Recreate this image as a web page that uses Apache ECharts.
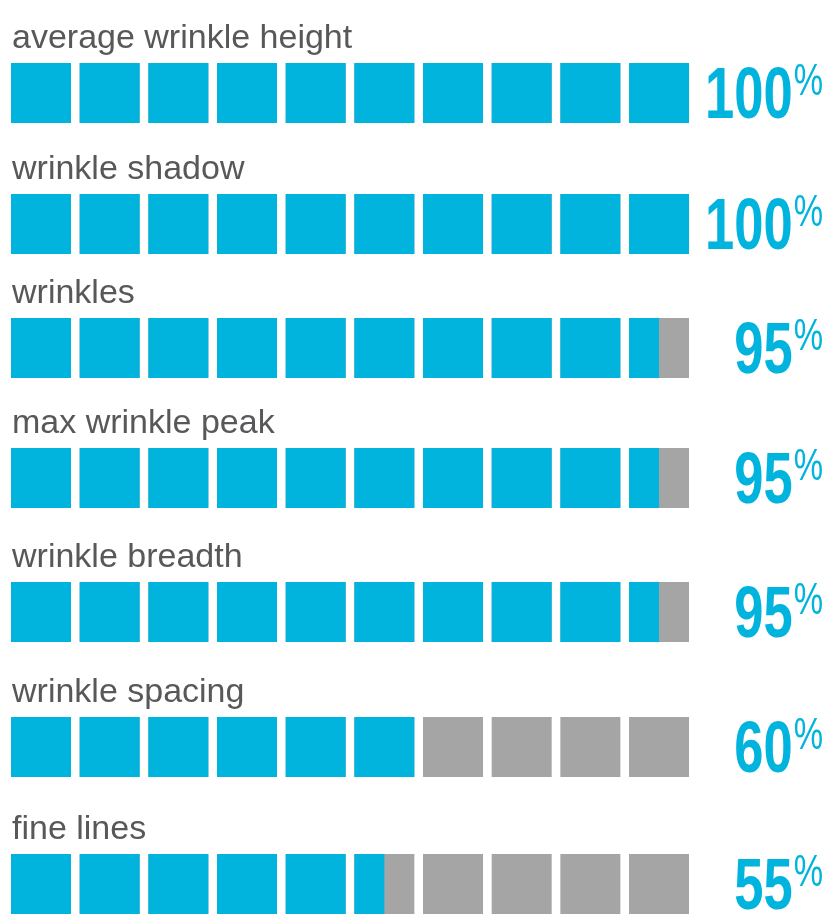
<!DOCTYPE html>
<html>
<head>
<meta charset="utf-8">
<script src="https://cdn.jsdelivr.net/npm/echarts/dist/echarts.min.js"></script>
<style>
html,body{margin:0;padding:0;background:#ffffff;}
#chart{width:830px;height:916px;}
</style>
</head>
<body>
<div id="chart"></div>
<script>
// ---- data ----
const categories = ['average wrinkle height', 'wrinkle shadow', 'wrinkles', 'max wrinkle peak', 'wrinkle breadth', 'wrinkle spacing', 'fine lines'];
const values = [100, 100, 95, 95, 95, 60, 55];
const squareStarts = [0, 10, 20, 30, 40, 50, 60, 70, 80, 90];

// ---- layout / style ----
const ROW_TOPS = [63, 194, 318, 448, 582, 717, 854];
const GRID_LEFT = 11, PITCH = 68.67, SQUARE = 60;
const BLUE = '#00B4DD', GREY = '#A5A5A5', TEXT = '#58585A';
const FONT = '"Liberation Sans", Arial, sans-serif';

const grids = [], xAxes = [], yAxes = [], series = [];
categories.forEach((name, i) => {
  grids.push({ left: GRID_LEFT, top: ROW_TOPS[i], width: PITCH * 10, height: SQUARE });
  xAxes.push({ gridIndex: i, type: 'value', min: 0, max: 100, show: false });
  yAxes.push({ gridIndex: i, type: 'category', data: [name], show: false });
  series.push({
    type: 'custom', xAxisIndex: i, yAxisIndex: i, clip: false, silent: true,
    data: squareStarts.map(s => [s, 0, values[i]]),
    renderItem: (params, api) => {
      const s = api.value(0), v = api.value(2);
      const a = api.coord([s, 0]), b = api.coord([s + 10, 0]);
      const w = (b[0] - a[0]) * SQUARE / PITCH;
      const h = api.size([0, 1])[1];
      const x = a[0], y = a[1] - h / 2;
      const frac = Math.max(0, Math.min(1, (v - s) / 10));
      const children = [{ type: 'rect', shape: { x, y, width: w, height: h }, style: { fill: GREY } }];
      if (frac > 0) children.push({ type: 'rect', shape: { x, y, width: w * frac, height: h }, style: { fill: BLUE } });
      if (s === 0) {
        children.push({ type: 'text', x: x + 1, y: y - 24.5,
          style: { text: name, fill: TEXT, fontSize: 34, fontFamily: FONT, align: 'left', verticalAlign: 'middle' } });
      }
      if (s === 90) {
        const end = api.coord([100, 0])[0];
        const px = end + 95;
        children.push({ type: 'text', x: px, y: y + 34.4, scaleX: 0.72,
          style: { text: String(v), fill: BLUE, fontSize: 73, fontWeight: 'bold', fontFamily: FONT, align: 'right', verticalAlign: 'middle' } });
        children.push({ type: 'text', x: px + 1, y: y + 19.4, scaleX: 0.75,
          style: { text: '%', fill: BLUE, fontSize: 44, fontFamily: FONT, align: 'left', verticalAlign: 'middle' } });
      }
      return { type: 'group', children };
    }
  });
});

const chart = echarts.init(document.getElementById('chart'), null, { renderer: 'canvas' });
chart.setOption({
  animation: false,
  backgroundColor: '#ffffff',
  grid: grids,
  xAxis: xAxes,
  yAxis: yAxes,
  series: series
});
</script>
</body>
</html>
